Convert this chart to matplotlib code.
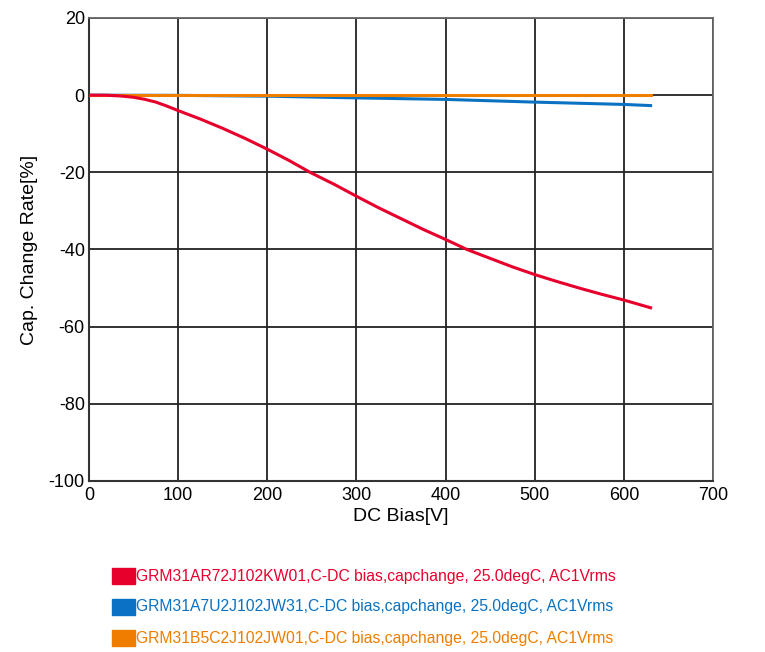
import matplotlib
matplotlib.use("Agg")
import matplotlib.pyplot as plt
from matplotlib.patches import Rectangle

plt.rcParams['font.family'] = ['Liberation Sans', 'DejaVu Sans']
plt.rcParams['axes.unicode_minus'] = False

# Data
red_x = [0, 20, 35, 50, 62, 75, 87, 100, 125, 150, 175, 200, 225, 248, 275, 300, 325, 350, 375,
         400, 424, 450, 475, 500, 525, 550, 575, 600, 630]
red_y = [0, -0.02, -0.2, -0.55, -1.05, -1.8, -2.8, -4.0, -6.2, -8.6, -11.2, -14.0, -17.0, -20.0,
         -23.1, -26.2, -29.2, -32.0, -34.8, -37.4, -40.0, -42.3, -44.5, -46.5, -48.3, -50.0,
         -51.6, -53.1, -55.1]
blue_x = [0, 100, 200, 300, 400, 500, 600, 630]
blue_y = [0, -0.05, -0.26, -0.7, -1.1, -1.8, -2.4, -2.7]
orange_x = [0, 100, 200, 300, 400, 500, 600, 630]
orange_y = [0, 0, 0, 0, 0, 0, 0, 0]

labels = [
    "GRM31AR72J102KW01,C-DC bias,capchange, 25.0degC, AC1Vrms",
    "GRM31A7U2J102JW31,C-DC bias,capchange, 25.0degC, AC1Vrms",
    "GRM31B5C2J102JW01,C-DC bias,capchange, 25.0degC, AC1Vrms",
]
colors = ["#e8002d", "#0a72c2", "#ef7d00"]

xticks = [0, 100, 200, 300, 400, 500, 600, 700]
yticks = [20, 0, -20, -40, -60, -80, -100]

W, H = 765, 652
fig = plt.figure(figsize=(W / 100, H / 100), dpi=100)
ax = fig.add_axes([89 / W, 1 - 481 / H, (713 - 89) / W, (481 - 18) / H])

ax.set_xlim(0, 700)
ax.set_ylim(-100, 20)
ax.set_xticks(xticks)
ax.set_yticks(yticks)
ax.tick_params(axis='y', length=0, labelsize=13, pad=3)
ax.tick_params(axis='x', length=0, labelsize=13, pad=4)
ax.grid(True, color="#222222", linewidth=1.3)
ax.set_axisbelow(True)
for s in ['top', 'right']:
    ax.spines[s].set_color('#666666')
    ax.spines[s].set_linewidth(1.3)
for s in ['left', 'bottom']:
    ax.spines[s].set_color('#333333')
    ax.spines[s].set_linewidth(1.5)

ax.plot(orange_x, orange_y, color=colors[2], lw=2.2, zorder=3)
ax.plot(blue_x, blue_y, color=colors[1], lw=2.2, zorder=2)
ax.plot(red_x, red_y, color=colors[0], lw=2.2, zorder=4)

ax.set_xlabel("DC Bias[V]", fontsize=14, labelpad=3)
ax.set_ylabel("Cap. Change Rate[%]", fontsize=14, labelpad=8)

# Legend below the chart
for i, (lab, col) in enumerate(zip(labels, colors)):
    yc = 576 + i * 31
    fig.patches.append(Rectangle((112 / W, 1 - (yc + 8) / H), 23 / W, 16 / H,
                                 transform=fig.transFigure, color=col, figure=fig))
    fig.text(136 / W, 1 - yc / H, lab, color=col, fontsize=11.3, va='center', ha='left')

fig.savefig("out.png", dpi=100)
